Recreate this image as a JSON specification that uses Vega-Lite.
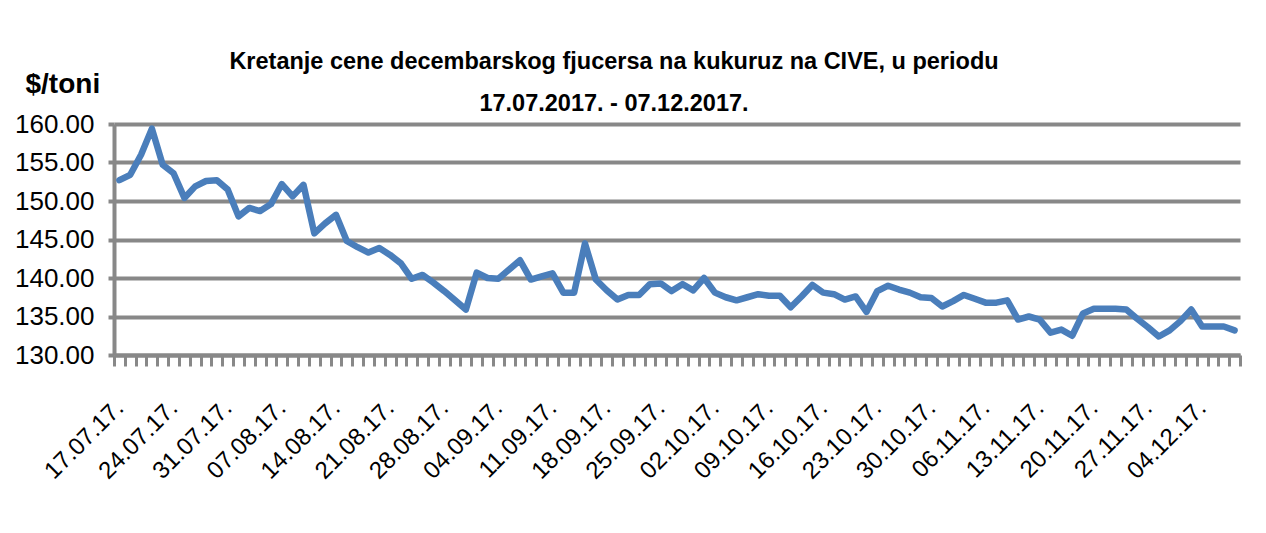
{
  "$schema": "https://vega.github.io/schema/vega-lite/v6.json",
  "width": 1126,
  "height": 231,
  "autosize": "none",
  "padding": {"left": 114, "top": 124, "right": 26, "bottom": 178},
  "background": "white",
  "title": {
    "text": ["Kretanje cene decembarskog fjucersa na  kukuruz na CIVE, u periodu", "17.07.2017. - 07.12.2017."],
    "font": "Liberation Sans",
    "fontWeight": "bold",
    "fontSize": 23.5,
    "lineHeight": 42,
    "color": "black",
    "anchor": "middle",
    "dx": -63,
    "offset": -45
  },
  "data": {
    "values": [
      {"datum": "17.07.17.", "cena": 152.7},
      {"datum": "18.07.17.", "cena": 153.4},
      {"datum": "19.07.17.", "cena": 156.0},
      {"datum": "20.07.17.", "cena": 159.4},
      {"datum": "21.07.17.", "cena": 154.7},
      {"datum": "24.07.17.", "cena": 153.6},
      {"datum": "25.07.17.", "cena": 150.4},
      {"datum": "26.07.17.", "cena": 151.9},
      {"datum": "27.07.17.", "cena": 152.6},
      {"datum": "28.07.17.", "cena": 152.7},
      {"datum": "31.07.17.", "cena": 151.5},
      {"datum": "01.08.17.", "cena": 148.0},
      {"datum": "02.08.17.", "cena": 149.1},
      {"datum": "03.08.17.", "cena": 148.7},
      {"datum": "04.08.17.", "cena": 149.6},
      {"datum": "07.08.17.", "cena": 152.2},
      {"datum": "08.08.17.", "cena": 150.6},
      {"datum": "09.08.17.", "cena": 152.1},
      {"datum": "10.08.17.", "cena": 145.8},
      {"datum": "11.08.17.", "cena": 147.1},
      {"datum": "14.08.17.", "cena": 148.2},
      {"datum": "15.08.17.", "cena": 144.8},
      {"datum": "16.08.17.", "cena": 144.0},
      {"datum": "17.08.17.", "cena": 143.3},
      {"datum": "18.08.17.", "cena": 143.9},
      {"datum": "21.08.17.", "cena": 143.0},
      {"datum": "22.08.17.", "cena": 141.9},
      {"datum": "23.08.17.", "cena": 139.9},
      {"datum": "24.08.17.", "cena": 140.4},
      {"datum": "25.08.17.", "cena": 139.4},
      {"datum": "28.08.17.", "cena": 138.3},
      {"datum": "29.08.17.", "cena": 137.1},
      {"datum": "30.08.17.", "cena": 135.9},
      {"datum": "31.08.17.", "cena": 140.7},
      {"datum": "01.09.17.", "cena": 140.0},
      {"datum": "04.09.17.", "cena": 139.9},
      {"datum": "05.09.17.", "cena": 141.1},
      {"datum": "06.09.17.", "cena": 142.3},
      {"datum": "07.09.17.", "cena": 139.8},
      {"datum": "08.09.17.", "cena": 140.2},
      {"datum": "11.09.17.", "cena": 140.6},
      {"datum": "12.09.17.", "cena": 138.1},
      {"datum": "13.09.17.", "cena": 138.1},
      {"datum": "14.09.17.", "cena": 144.5},
      {"datum": "15.09.17.", "cena": 139.8},
      {"datum": "18.09.17.", "cena": 138.4},
      {"datum": "19.09.17.", "cena": 137.2},
      {"datum": "20.09.17.", "cena": 137.8},
      {"datum": "21.09.17.", "cena": 137.8},
      {"datum": "22.09.17.", "cena": 139.2},
      {"datum": "25.09.17.", "cena": 139.3},
      {"datum": "26.09.17.", "cena": 138.3},
      {"datum": "27.09.17.", "cena": 139.2},
      {"datum": "28.09.17.", "cena": 138.4},
      {"datum": "29.09.17.", "cena": 140.0},
      {"datum": "02.10.17.", "cena": 138.1},
      {"datum": "03.10.17.", "cena": 137.5},
      {"datum": "04.10.17.", "cena": 137.1},
      {"datum": "05.10.17.", "cena": 137.5},
      {"datum": "06.10.17.", "cena": 137.9},
      {"datum": "09.10.17.", "cena": 137.7},
      {"datum": "10.10.17.", "cena": 137.7},
      {"datum": "11.10.17.", "cena": 136.2},
      {"datum": "12.10.17.", "cena": 137.6},
      {"datum": "13.10.17.", "cena": 139.1},
      {"datum": "16.10.17.", "cena": 138.1},
      {"datum": "17.10.17.", "cena": 137.9},
      {"datum": "18.10.17.", "cena": 137.2},
      {"datum": "19.10.17.", "cena": 137.6},
      {"datum": "20.10.17.", "cena": 135.6},
      {"datum": "23.10.17.", "cena": 138.3},
      {"datum": "24.10.17.", "cena": 139.0},
      {"datum": "25.10.17.", "cena": 138.5},
      {"datum": "26.10.17.", "cena": 138.1},
      {"datum": "27.10.17.", "cena": 137.5},
      {"datum": "30.10.17.", "cena": 137.4},
      {"datum": "31.10.17.", "cena": 136.3},
      {"datum": "01.11.17.", "cena": 137.0},
      {"datum": "02.11.17.", "cena": 137.8},
      {"datum": "03.11.17.", "cena": 137.3},
      {"datum": "06.11.17.", "cena": 136.8},
      {"datum": "07.11.17.", "cena": 136.8},
      {"datum": "08.11.17.", "cena": 137.1},
      {"datum": "09.11.17.", "cena": 134.6},
      {"datum": "10.11.17.", "cena": 135.0},
      {"datum": "13.11.17.", "cena": 134.6},
      {"datum": "14.11.17.", "cena": 132.9},
      {"datum": "15.11.17.", "cena": 133.3},
      {"datum": "16.11.17.", "cena": 132.5},
      {"datum": "17.11.17.", "cena": 135.4},
      {"datum": "20.11.17.", "cena": 136.0},
      {"datum": "21.11.17.", "cena": 136.0},
      {"datum": "22.11.17.", "cena": 136.0},
      {"datum": "23.11.17.", "cena": 135.9},
      {"datum": "24.11.17.", "cena": 134.7},
      {"datum": "27.11.17.", "cena": 133.6},
      {"datum": "28.11.17.", "cena": 132.4},
      {"datum": "29.11.17.", "cena": 133.2},
      {"datum": "30.11.17.", "cena": 134.4},
      {"datum": "01.12.17.", "cena": 135.9},
      {"datum": "04.12.17.", "cena": 133.7},
      {"datum": "05.12.17.", "cena": 133.7},
      {"datum": "06.12.17.", "cena": 133.7},
      {"datum": "07.12.17.", "cena": 133.2}
    ]
  },
  "mark": {"type": "line", "color": "#4a7ebb", "strokeWidth": 6.5, "strokeJoin": "round", "strokeCap": "round"},
  "encoding": {
    "x": {
      "field": "datum",
      "type": "nominal",
      "sort": null,
      "bandPosition": 0.5,
      "scale": {"type": "band", "paddingInner": 0, "paddingOuter": 0},
      "axis": {
        "title": null,
        "domainColor": "#888888",
        "domainWidth": 4,
        "tickBand": "extent",
        "tickColor": "#888888",
        "tickSize": 11,
        "tickWidth": 3,
        "labelAngle": -45,
        "labelAlign": "right",
        "labelBaseline": "middle",
        "labelPadding": 38,
        "labelOverlap": false,
        "labelFont": "Liberation Sans",
        "labelFontSize": 24,
        "labelColor": "black",
        "labelLimit": 0,
        "labelExpr": "indexof(['17.07.17.','24.07.17.','31.07.17.','07.08.17.','14.08.17.','21.08.17.','28.08.17.','04.09.17.','11.09.17.','18.09.17.','25.09.17.','02.10.17.','09.10.17.','16.10.17.','23.10.17.','30.10.17.','06.11.17.','13.11.17.','20.11.17.','27.11.17.','04.12.17.'], datum.value) >= 0 ? datum.value : ''"
      }
    },
    "y": {
      "field": "cena",
      "type": "quantitative",
      "scale": {"domain": [130, 160], "zero": false, "nice": false},
      "axis": {
        "title": "$/toni",
        "titleAngle": 0,
        "titleX": -89,
        "titleY": -32,
        "titleAlign": "left",
        "titleBaseline": "alphabetic",
        "titleFont": "Liberation Sans",
        "titleFontSize": 28,
        "titleFontWeight": "bold",
        "titleColor": "black",
        "values": [130, 135, 140, 145, 150, 155, 160],
        "format": ".2f",
        "grid": true,
        "gridColor": "#888888",
        "gridWidth": 4,
        "domainColor": "#888888",
        "domainWidth": 4,
        "tickColor": "#888888",
        "tickSize": 6,
        "tickWidth": 4,
        "labelPadding": 14,
        "labelFont": "Liberation Sans",
        "labelFontSize": 26,
        "labelColor": "black"
      }
    }
  },
  "config": {"view": {"stroke": null}}
}
